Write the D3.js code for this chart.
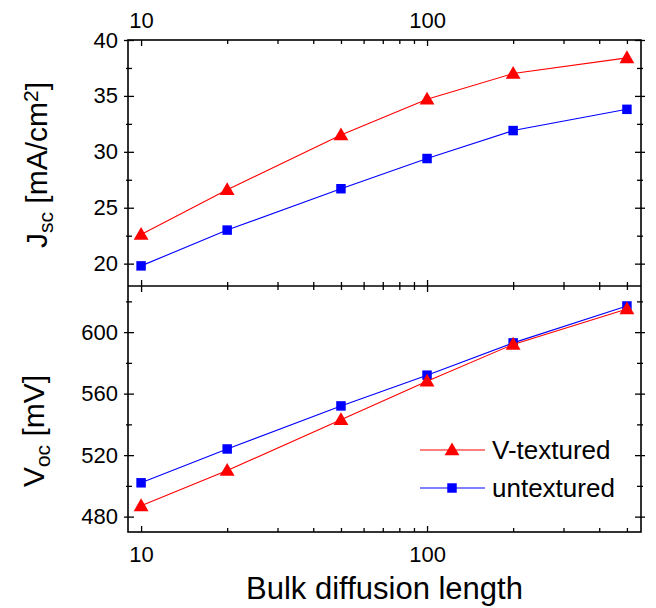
<!DOCTYPE html>
<html>
<head>
<meta charset="utf-8">
<script src="https://cdn.jsdelivr.net/npm/d3@7"></script>
<style>
  html, body { margin: 0; padding: 0; background: #fff; }
  svg { display: block; font-family: "Liberation Sans", Arial, sans-serif; }
</style>
</head>
<body>
<svg id="chart" width="656" height="608"></svg>
<script>
// Bulk diffusion length (x) for both panels
const diffusionLength = [10, 20, 50, 100, 200, 500];

// Short-circuit current density, mA/cm^2
const jscTextured   = [22.6, 26.6, 31.5, 34.7, 37.0, 38.4];
const jscUntextured = [19.8, 23.0, 26.7, 29.4, 31.9, 33.8];

// Open-circuit voltage, mV
const vocTextured   = [487, 510, 543, 568, 592, 615];
const vocUntextured = [502, 524, 552, 572, 593, 617];

const seriesNames = ["V-textured", "untextured"];
const xTickLabels = [10, 100];
const jscTicks = [20, 25, 30, 35, 40];
const vocTicks = [480, 520, 560, 600];

const svg = d3.select("#chart");
const L = 128, R = 641, T = 40, M = 286, B = 532;

const x = d3.scaleLog().domain([9, 560]).range([L, R]);
const yJ = d3.scaleLinear().domain([18, 40]).range([M, T]);
const yV = d3.scaleLinear().domain([470, 630]).range([B, M]);

const red = "#ff0000", blue = "#0000ff";
const tickFont = 22;

// minor x ticks: 2..9 of each decade within domain
const xMinor = [];
[10, 100].forEach(d => { for (let k = 2; k <= 9; k++) { const v = d * k; if (v <= 560) xMinor.push(v); } });

function styleAxis(g) {
  g.select(".domain").remove();
  g.selectAll("line").attr("stroke", "#000").attr("stroke-width", 1.3);
  g.selectAll("text").attr("fill", "#000").style("font-size", tickFont + "px")
    .style("font-family", "'Liberation Sans', Arial, sans-serif");
}

// x ticks along a horizontal edge; dir = +1 points down into panel, -1 up
function xTicks(yPos, dir, labels, labelSide) {
  const majAxis = (labelSide === "top" ? d3.axisTop(x) : d3.axisBottom(x))
    .tickValues(xTickLabels).tickFormat(labels ? d3.format("d") : () => "")
    .tickSize(0).tickPadding(labelSide === "top" ? 12 : 14);
  const gm = svg.append("g").attr("transform", `translate(0,${yPos})`).call(majAxis);
  styleAxis(gm);
  gm.selectAll(".tick line").attr("y1", 0).attr("y2", 6 * dir);
  const minAxis = d3.axisBottom(x).tickValues(xMinor).tickFormat(() => "").tickSize(0);
  const gn = svg.append("g").attr("transform", `translate(0,${yPos})`).call(minAxis);
  styleAxis(gn);
  gn.selectAll(".tick line").attr("y1", 0).attr("y2", 4 * dir);
}

// y ticks along a vertical edge; side = "left" or "right"
function yTicks(scale, major, minor, xPos, side, labels) {
  const inward = side === "left" ? 1 : -1;
  const ax = d3.axisLeft(scale).tickValues(major).tickFormat(labels ? d3.format("d") : () => "")
    .tickSize(0).tickPadding(10);
  const g = svg.append("g").attr("transform", `translate(${xPos},0)`).call(ax);
  styleAxis(g);
  g.selectAll(".tick line").attr("x1", -4 * inward).attr("x2", 6 * inward);
  const an = d3.axisLeft(scale).tickValues(minor).tickFormat(() => "").tickSize(0);
  const gn = svg.append("g").attr("transform", `translate(${xPos},0)`).call(an);
  styleAxis(gn);
  gn.selectAll(".tick line").attr("x1", -2 * inward).attr("x2", 4 * inward);
}

const jscMinor = d3.range(20, 40, 2.5).filter(v => v % 5 !== 0);
const vocMinor = [500, 540, 580, 620];

xTicks(T, 1, true, "top");
xTicks(M, -1, false, "bottom");
xTicks(M, 1, false, "bottom");
xTicks(B, -1, true, "bottom");

yTicks(yJ, jscTicks, jscMinor, L, "left", true);
yTicks(yJ, jscTicks, jscMinor, R, "right", false);
yTicks(yV, vocTicks, vocMinor, L, "left", true);
yTicks(yV, vocTicks, vocMinor, R, "right", false);

// frames
svg.append("rect").attr("x", L).attr("y", T).attr("width", R - L).attr("height", B - T)
  .attr("fill", "none").attr("stroke", "#000").attr("stroke-width", 1.6);
svg.append("line").attr("x1", L).attr("x2", R).attr("y1", M).attr("y2", M)
  .attr("stroke", "#000").attr("stroke-width", 1.6);

const tri = d3.symbol().type(d3.symbolTriangle).size(95);
const sq = d3.symbol().type(d3.symbolSquare).size(90);

function drawSeries(vals, yScale, color, sym, dy) {
  const pts = diffusionLength.map((d, i) => [d, vals[i]]);
  svg.append("path").datum(pts)
    .attr("fill", "none").attr("stroke", color).attr("stroke-width", 1.1)
    .attr("d", d3.line().x(d => x(d[0])).y(d => yScale(d[1])));
  svg.selectAll(null).data(pts).join("path")
    .attr("transform", d => `translate(${x(d[0])},${yScale(d[1]) + dy})`)
    .attr("d", sym).attr("fill", color);
}

drawSeries(jscUntextured, yJ, blue, sq, 0);
drawSeries(jscTextured, yJ, red, tri, 1);
drawSeries(vocUntextured, yV, blue, sq, 0);
drawSeries(vocTextured, yV, red, tri, 1);

// legend
const legend = [
  { name: seriesNames[0], color: red, sym: tri, y: 450, dy: 1 },
  { name: seriesNames[1], color: blue, sym: sq, y: 488, dy: 0 }
];
legend.forEach(l => {
  svg.append("line").attr("x1", 420).attr("x2", 485).attr("y1", l.y).attr("y2", l.y)
    .attr("stroke", l.color).attr("stroke-width", 1.1);
  svg.append("path").attr("d", l.sym).attr("fill", l.color)
    .attr("transform", `translate(452,${l.y + l.dy})`);
  svg.append("text").attr("x", 492).attr("y", l.y + 9).text(l.name)
    .style("font-size", "26px").attr("fill", "#000");
});

// axis titles
svg.append("text").attr("x", (L + R) / 2).attr("y", 599).attr("text-anchor", "middle")
  .style("font-size", "31px").text("Bulk diffusion length");

const jt = svg.append("text").attr("transform", `translate(47,${(T + M) / 2 + 2}) rotate(-90)`)
  .attr("text-anchor", "middle").style("font-size", "30px");
jt.append("tspan").text("J");
jt.append("tspan").text("sc").attr("baseline-shift", "-30%").style("font-size", "21px");
jt.append("tspan").text(" [mA/cm");
jt.append("tspan").text("2").attr("baseline-shift", "45%").style("font-size", "21px");
jt.append("tspan").text("]");

const vt = svg.append("text").attr("transform", `translate(44,431) rotate(-90)`)
  .attr("text-anchor", "middle").style("font-size", "30px");
vt.append("tspan").text("V");
vt.append("tspan").text("oc").attr("baseline-shift", "-30%").style("font-size", "21px");
vt.append("tspan").text(" [mV]");
</script>
</body>
</html>
